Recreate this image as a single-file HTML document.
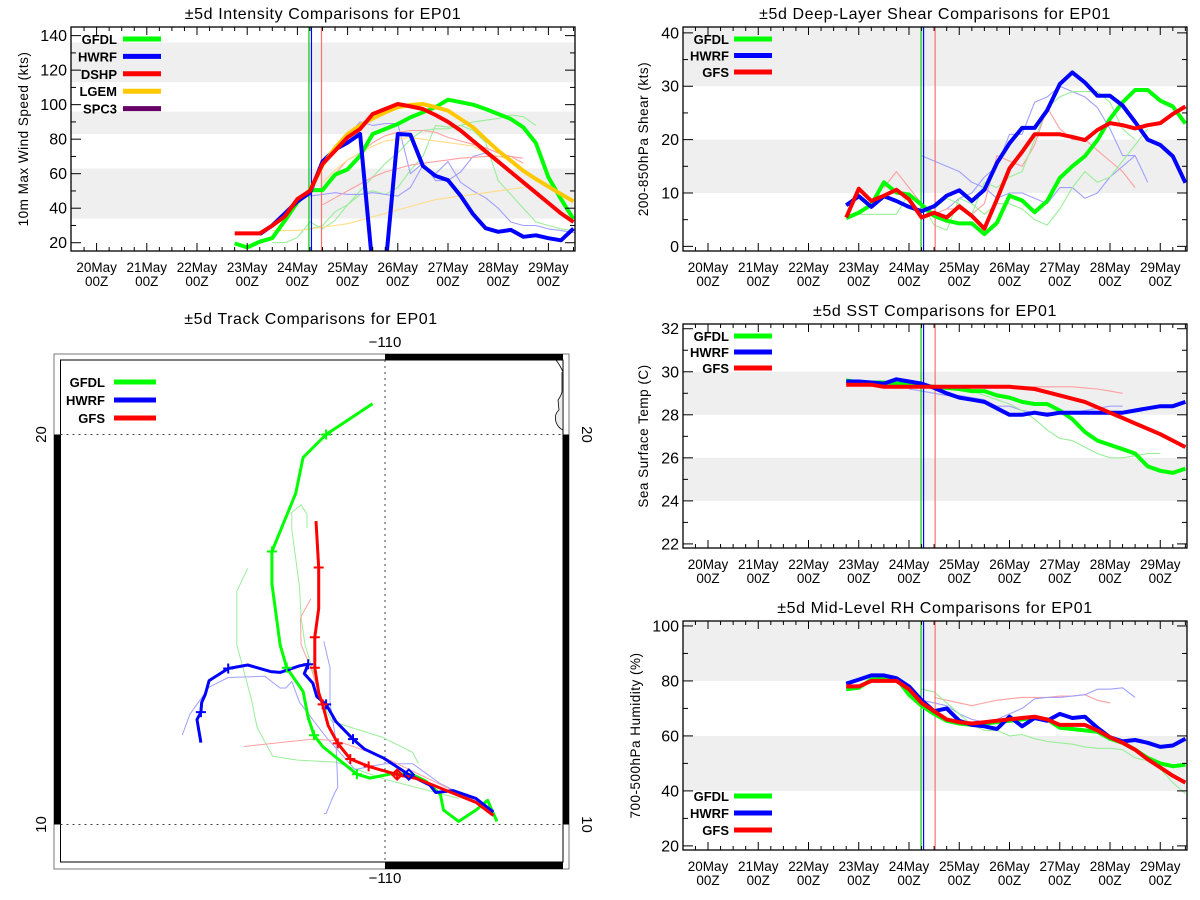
<!DOCTYPE html>
<html><head><meta charset="utf-8"><title>EP01 comparisons</title>
<style>
html,body{margin:0;padding:0;background:#fff;}
svg{display:block;font-family:"Liberation Sans",sans-serif;}
</style></head>
<body>
<svg id="root" width="1200" height="900" viewBox="0 0 1200 900" xmlns="http://www.w3.org/2000/svg">
<rect x="0" y="0" width="1200" height="900" fill="#fff"/>
</svg>
<script>
// ---------- data (6-hourly values) ----------
const dateLabels = ["20May","21May","22May","23May","24May","25May","26May","27May","28May","29May"];
const seriesStartDay = 22.75;

const intTicks = [20,40,60,80,100,120,140];
const intGFDL = [19.6,17.3,20.6,22.7,32.8,43.4,50.5,50.5,59.4,62.5,70.4,83,85.9,88.8,92.6,95.6,98.5,102.9,101.4,100,97.5,94.6,91.7,86.9,77.8,57.9,45.3,33.7];
const intHWRF = [null,null,25,30,37,44,49,67,74,78,83,5,5,83,82.6,64.5,58.7,56.2,47.2,36.5,28.4,26.3,27.4,23.4,24.3,22.6,21.4,28.2];
const intDSHP = [25.4,25.4,25.4,29.9,35.3,45.3,50.1,65.6,73.3,81.1,85.9,94.6,97.5,100.4,99,97.5,94,90,85,79,73,67,61,55,49,43,37,32];
const intLGEM = [null,null,null,null,null,null,50,65,75,83,88,92,95.6,98.5,99.8,100.4,98.5,96.5,91.7,86.9,80,73.3,67.5,61.7,56.9,52.5,48.2,44];
const intThinGreen1 = [20,20,23,32,28,33,42,50,58,66,72,80,85,86,86,88,90,91,92,94,93,88];
const intThinGreen2 = [28,30,38,42,48,50,48,52,62,70,88,87,88,85,78,56,48,40,32,30,28,27];
const intThinBlue1 = [47,48,49,48,48,49,48,47,52,65,60,67,55,50,46,40,32,30,30,28,27,26,24,22,24,22];
const intThinBlue2 = [75,82,90,88,89,89,60,66,56,56,61,70,72];
const intThinRed1 = [50,60,68,72,78,82,84,85,85,84,81,79,77,75,72,70,66];
const intThinRed2 = [42,46,50,54,58,61,63,65,66,67,68,69,69.5,70,70,70,69];
const intThinOrange1 = [55,62,68,72,76,79,80,81,80,79,78,77,76,72,70,68];
const intThinOrange2 = [27,27,27,28,29,30,31,33,35,37,39,41,43,45,46,47,48,49,50,51,52];

const shrTicks = [0,10,20,30,40];
const shrGFDL = [5.3,6.3,7.8,12,10.1,9.7,7.8,5.7,4.8,4.3,4.3,2.3,4.4,9.5,8.6,6.4,8.5,12.8,15,16.9,19.9,23.9,27,29.3,29.3,27.3,26.2,23];
const shrHWRF = [7.7,9.4,7.4,9.4,8.5,7.4,6.6,7.5,9.5,10.5,8.5,10.6,15.6,19.3,22.2,22.2,25.5,30.4,32.6,30.7,28.2,28.2,26.4,23.3,20,19,16.9,11.9];
const shrGFS = [5.4,10.8,8.5,9.5,10.6,8.8,5.4,6.3,5.4,7.5,5.7,3.3,8.8,14.6,17.7,21,21,21,20.5,19.9,21.8,23.1,22.7,22.1,22.7,23.1,24.8,26.2];
const shrThinBlue1 = [17,16,15,14,12,11,9,10,10,9,8,11,11,9,10,13,15,17];
const shrThinBlue2 = [7,9,10,13,15,21,21,27,28,30,29,28,26,22,17,17,12];
const shrThinRed1 = [11,14,11,8,6,7,7,6,8,17,16,15,19,26,22,20,20,18,16,14,11];
const shrThinGreen1 = [6,6,6,6,10,8,4,3,9,8,6,8,8,7,5,4,7,11,14,12,13,16,19,22];
const shrThinGreen2 = [7,9,8,6,12,11,13,14,20,26,28,29,29,29,27,22,20];

const sstTicks = [22,24,26,28,30,32];
const sstGFDL = [29.6,29.5,29.5,29.5,29.45,29.4,29.35,29.3,29.25,29.2,29.1,29.1,28.9,28.8,28.6,28.5,28.5,28.2,27.8,27.2,26.8,26.6,26.4,26.2,25.6,25.4,25.3,25.5];
const sstHWRF = [29.55,29.55,29.5,29.45,29.65,29.55,29.45,29.25,29.0,28.8,28.7,28.6,28.3,28.0,28.0,28.1,28.0,28.1,28.1,28.1,28.1,28.1,28.1,28.2,28.3,28.4,28.4,28.6];
const sstGFS = [29.4,29.4,29.4,29.3,29.3,29.3,29.3,29.3,29.3,29.3,29.3,29.3,29.3,29.3,29.25,29.2,29.05,28.9,28.75,28.6,28.35,28.1,27.85,27.6,27.35,27.1,26.8,26.5];
const sstThinRed = [29.3,29.3,29.3,29.3,29.3,29.3,29.3,29.3,29.3,29.3,29.25,29.2,29.1,29.0];
const sstThinBlue = [29.2,29.1,29.0,28.9,28.9,28.8,28.7,28.4,28.4,28.2,28.1,28.1,28.1,28.1,28.2,28.3,28.4,28.4];
const sstThinGreen = [29.3,29.1,28.9,28.7,28.5,28.2,27.8,27.3,26.9,26.8,26.5,26.2,26.0,26.0,26.1,26.2,26.2];

const rhTicks = [20,40,60,80,100];
const rhGFDL = [77,77.5,80.5,81,81,75,71,68,65.5,64.5,64,64.5,65,65.5,66,66.5,66,63,62.5,62,61.5,59,57.5,55,52,50,49,49.5];
const rhHWRF = [79,80.5,82,82,81,78,73,69,70,65.5,64,63.5,62.5,67,63.5,66.5,65.5,68,66.5,67,63,59.5,58,58.5,57.5,56,56.5,59];
const rhGFS = [78,78,80,80,80,77,72,69,66,65,64.5,65,65.5,66,66.5,67,66,64,64,64,62,59.5,57.5,55,51.5,48.5,45.5,43];
const rhThinRed = [74,73,72,71,72,73,73.5,74,74,74,74.5,74.5,75,73,72];
const rhThinBlue = [73,72,71,68,66,65,66,68,70,73.5,74,74,74.5,75,77,77,77.5,74];
const rhThinGreen = [77,76,72,68,64,62,62,60,60.5,59,58,57.5,57,56,55.5,55.5,55,52,51,48,43,39];

// track data: [lon, lat]
const trkGFDL = [[-110.32,20.79],[-111.51,20.0],[-112.10,19.41],[-112.29,18.49],[-112.90,17.0],[-112.90,16.18],[-112.69,14.61],[-112.52,14.02],[-112.10,13.41],[-111.97,12.74],[-111.82,12.29],[-111.60,12.0],[-110.72,11.29],[-110.39,11.19],[-109.78,11.31],[-109.29,11.28],[-108.95,11.11],[-108.58,10.77],[-108.50,10.37],[-108.11,10.08],[-107.67,10.37],[-107.37,10.62],[-107.13,10.08]];
const trkHWRF = [[-107.22,10.32],[-107.67,10.67],[-108.26,10.87],[-108.70,10.82],[-108.85,11.01],[-109.39,11.28],[-110.03,11.70],[-110.52,11.93],[-110.82,12.19],[-111.26,12.64],[-111.51,13.08],[-111.75,13.28],[-111.85,13.62],[-112.07,13.87],[-111.97,14.11],[-112.19,14.07],[-112.69,13.90],[-112.93,13.92],[-113.52,14.09],[-114.02,14.0],[-114.51,13.69],[-114.61,13.33],[-114.70,13.13],[-114.72,12.88],[-114.82,12.69],[-114.72,12.10]];
const trkGFS = [[-107.22,10.23],[-107.67,10.57],[-108.55,10.92],[-109.19,11.18],[-109.69,11.28],[-110.42,11.49],[-110.89,11.68],[-111.21,12.08],[-111.46,12.54],[-111.60,13.08],[-111.70,13.38],[-111.80,14.02],[-111.80,14.80],[-111.70,15.54],[-111.70,16.59],[-111.77,17.78]];
const trkGFDLMarks = [1,4,7,10,12];
const trkHWRFMarks = [8,10,14,19,23];
const trkGFSMarks = [4,5,6,7,9,11,12,14];
const trkThinG1 = [[-112.0,17.61],[-112.0,17.95],[-112.15,18.2],[-112.39,18.0],[-112.39,17.56],[-112.19,16.08],[-112.15,15.3],[-112.05,14.6],[-111.75,13.62],[-111.56,13.03],[-111.36,12.64],[-110.08,12.24],[-109.29,11.85],[-109.14,11.56]];
const trkThinG2 = [[-113.52,16.57],[-113.8,15.98],[-113.8,14.61],[-113.43,13.23],[-113.28,12.49],[-112.88,11.75],[-112.24,11.65],[-111.26,11.6],[-110.0,11.16],[-108.11,10.67]];
const trkThinB1 = [[-111.57,14.70],[-111.41,14.02],[-111.41,13.13],[-111.26,12.15],[-111.21,10.96],[-111.31,10.77],[-111.51,10.28],[-111.57,10.28]];
const trkThinB2 = [[-115.2,12.29],[-115.0,12.83],[-114.51,13.52],[-114.02,13.77],[-113.08,13.80],[-112.69,13.50],[-112.54,13.50],[-112.39,13.67],[-112.19,13.13],[-111.51,12.24],[-110.77,11.41],[-110.0,11.56],[-109.29,11.56],[-108.6,11.06],[-107.22,10.37]];
const trkThinR1 = [[-111.9,15.79],[-112.17,15.30],[-112.15,14.61],[-111.9,14.02],[-111.65,13.23],[-111.46,12.54]];
const trkThinR2 = [[-113.62,12.0],[-111.85,12.19],[-111.26,12.15],[-110.08,11.75],[-107.22,10.37]];

// ---------- helpers ----------
const NS = "http://www.w3.org/2000/svg";
const root = document.getElementById("root");
function mk(tag, attrs, parent){
  const e = document.createElementNS(NS, tag);
  for (const k in attrs) e.setAttribute(k, attrs[k]);
  (parent||root).appendChild(e);
  return e;
}
const GREEN="#00ff00", BLUE="#0000ff", RED="#ff0000", ORANGE="#ffc800", PURPLE="#660066";
const LGREEN="#99ee99", LBLUE="#a0a0ff", LRED="#ffa0a0", LORANGE="#ffdd88";

function timePanel(cfg){
  const g = mk("g", {});
  
  
  const L=cfg.left, R=cfg.right, T=cfg.top, B=cfg.bottom;
  const xs = d => cfg.x20 + (d-20)*cfg.perDay;
  const ys = v => B - (v-cfg.ymin)/(cfg.ymax-cfg.ymin)*(B-T);
  const title = mk("text", {x:(L+R)/2, y:cfg.titleY, "text-anchor":"middle", "font-size":"16", "letter-spacing":"0.6", fill:"#000"}, g);
  title.textContent = cfg.title;
  
  
  cfg.bands.forEach(b => {
    const y1 = ys(Math.min(b[1],cfg.ymax)), y2 = ys(b[0]);
    const r = mk("rect", {x:L, y:y1, width:R-L, height:y2-y1, fill:"#efefef"}, g);
    
    
  });
  const clipId = "clip"+cfg.name;
  const cp = mk("clipPath", {id:clipId}, g);
  mk("rect", {x:L, y:T, width:R-L, height:B-T}, cp);
  const plot = mk("g", {"clip-path":"url(#"+clipId+")"}, g);
  function line(vals, start, color, w, nm){
    let d = "", pen=false;
    vals.forEach((v,i) => {
      if (v===null){pen=false;return;}
      const x = xs(start + i*0.25), y = ys(v);
      d += (pen?"L":"M") + x.toFixed(1) + " " + y.toFixed(1) + " ";
      pen = true;
    });
    const p = mk("path", {d:d, fill:"none", stroke:color, "stroke-width":w, "stroke-linejoin":"round"}, plot);
    
    
  }
  cfg.thin.forEach(t => line(t[0], t[1], t[2], 1.1, "ensemble-line"));
  cfg.vlines.forEach(v => {
    const l = mk("line", {x1:xs(v[0]), x2:xs(v[0]), y1:T, y2:B, stroke:v[1], "stroke-width":1.2}, plot);
    
    
  });
  cfg.thick.slice().reverse().forEach(t => line(t[0], seriesStartDay, t[1], 4, t[2]));
  const fr = mk("rect", {x:L, y:T, width:R-L, height:B-T, fill:"none", stroke:"#000", "stroke-width":1.3}, g);
  
  
  for (let d=19.5; d<=29.6; d+=0.25){
    const x = xs(d); if (x<L+1||x>R-1) continue;
    const major = Math.abs(d-Math.round(d))<1e-6;
    const len = major?8:4;
    mk("line", {x1:x,x2:x,y1:B,y2:B-len,stroke:"#000","stroke-width":1}, g);
    mk("line", {x1:x,x2:x,y1:T,y2:T+len,stroke:"#000","stroke-width":1}, g);
  }
  dateLabels.forEach((lab,i) => {
    const x = xs(20+i);
    const t1 = mk("text", {x:x, y:B+21, "text-anchor":"middle", "font-size":"13.5"}, g);
    t1.textContent = lab;
    
    
    const t2 = mk("text", {x:x, y:B+35, "text-anchor":"middle", "font-size":"13.5"}, g);
    t2.textContent = "00Z";
    
    
  });
  const step = cfg.ticks[1]-cfg.ticks[0];
  for (let v=cfg.ticks[0]; v<=cfg.ticks[cfg.ticks.length-1]+1e-6; v+=step/cfg.minor){
    const y = ys(v);
    const major = cfg.ticks.some(t=>Math.abs(t-v)<1e-6);
    const len = major?10:5;
    mk("line", {x1:L,x2:L+len,y1:y,y2:y,stroke:"#000","stroke-width":1}, g);
    mk("line", {x1:R,x2:R-len,y1:y,y2:y,stroke:"#000","stroke-width":1}, g);
  }
  cfg.ticks.forEach(v => {
    const t = mk("text", {x:L-4, y:ys(v)+5.5, "text-anchor":"end", "font-size":"16"}, g);
    t.textContent = v;
    
    
  });
  const yt = mk("text", {x:0, y:0, "text-anchor":"middle", "font-size":"13.5", "letter-spacing":"0.5", transform:"translate("+cfg.yTitleX+","+((T+B)/2)+") rotate(-90)"}, g);
  yt.textContent = cfg.yTitle;
  
  
  cfg.legend.forEach((e,i) => {
    const y = cfg.legY + i*cfg.legStep;
    const t = mk("text", {x:cfg.legTextX, y:y+5, "text-anchor":"end", "font-size":"13", "font-weight":"bold"}, g);
    t.textContent = e[0];
    
    
    const l = mk("line", {x1:cfg.legLineX, x2:cfg.legLineX+38, y1:y, y2:y, stroke:e[1], "stroke-width":5}, g);
    
    
  });
}

const leftX = {left:71, right:575, x20:96.6, perDay:50.2};
const rightX = {left:683, right:1187, x20:708, perDay:50.25};
const rightV = [[24.24,"#00cc00"],[24.29,"#0000ff"],[24.52,"#ff7070"]];

timePanel(Object.assign({}, leftX, {
  name:"intensity-chart", title:"\u00b15d Intensity Comparisons for EP01", titleY:19,
  top:27, bottom:251, ymin:15.2, ymax:145, ticks:intTicks, minor:2,
  bands:[[34,63],[83,96],[113,136]], yTitle:"10m Max Wind Speed (kts)", yTitleX:28,
  vlines:[[24.23,"#00cc00"],[24.28,"#0000ff"],[24.48,"#ff7070"]],
  thin:[[intThinGreen1,23.5,LGREEN],[intThinGreen2,24.25,LGREEN],[intThinBlue1,24.25,LBLUE],[intThinBlue2,24.75,LBLUE],[intThinRed1,24.5,LRED],[intThinRed2,24.5,LRED],[intThinOrange1,24.5,LORANGE],[intThinOrange2,23.5,LORANGE]],
  thick:[[intDSHP,RED,"dshp-line"],[intLGEM,ORANGE,"lgem-line"],[intHWRF,BLUE,"hwrf-line"],[intGFDL,GREEN,"gfdl-line"]],
  legend:[["GFDL",GREEN],["HWRF",BLUE],["DSHP",RED],["LGEM",ORANGE],["SPC3",PURPLE]],
  legY:39, legStep:17.4, legTextX:117, legLineX:123
}));
timePanel(Object.assign({}, rightX, {
  name:"shear-chart", title:"\u00b15d Deep-Layer Shear Comparisons for EP01", titleY:19,
  top:27, bottom:251, ymin:-0.87, ymax:41.1, ticks:shrTicks, minor:2,
  bands:[[10,20],[30,45]], yTitle:"200-850hPa Shear (kts)", yTitleX:648,
  vlines:rightV,
  thin:[[shrThinBlue1,24.25,LBLUE],[shrThinBlue2,24.75,LBLUE],[shrThinRed1,23.5,LRED],[shrThinGreen1,23.0,LGREEN],[shrThinGreen2,24.5,LGREEN]],
  thick:[[shrGFS,RED,"gfs-line"],[shrHWRF,BLUE,"hwrf-line"],[shrGFDL,GREEN,"gfdl-line"]],
  legend:[["GFDL",GREEN],["HWRF",BLUE],["GFS",RED]],
  legY:39, legStep:16.5, legTextX:729, legLineX:734
}));
timePanel(Object.assign({}, rightX, {
  name:"sst-chart", title:"\u00b15d SST Comparisons for EP01", titleY:316,
  top:324, bottom:548, ymin:21.81, ymax:32.22, ticks:sstTicks, minor:2,
  bands:[[24,26],[28,30]], yTitle:"Sea Surface Temp (C)", yTitleX:648,
  vlines:rightV,
  thin:[[sstThinRed,25.0,LRED],[sstThinBlue,24.0,LBLUE],[sstThinGreen,25.0,LGREEN]],
  thick:[[sstGFS,RED,"gfs-line"],[sstHWRF,BLUE,"hwrf-line"],[sstGFDL,GREEN,"gfdl-line"]],
  legend:[["GFDL",GREEN],["HWRF",BLUE],["GFS",RED]],
  legY:336, legStep:16, legTextX:729, legLineX:734
}));
timePanel(Object.assign({}, rightX, {
  name:"rh-chart", title:"\u00b15d Mid-Level RH Comparisons for EP01", titleY:613,
  top:621, bottom:850, ymin:18.5, ymax:101.8, ticks:rhTicks, minor:2,
  bands:[[40,60],[80,105]], yTitle:"700-500hPa Humidity (%)", yTitleX:640,
  vlines:rightV,
  thin:[[rhThinRed,24.5,LRED],[rhThinBlue,24.25,LBLUE],[rhThinGreen,24.25,LGREEN]],
  thick:[[rhGFS,RED,"gfs-line"],[rhHWRF,BLUE,"hwrf-line"],[rhGFDL,GREEN,"gfdl-line"]],
  legend:[["GFDL",GREEN],["HWRF",BLUE],["GFS",RED]],
  legY:796, legStep:17, legTextX:729, legLineX:734
}));

// ---------- track map ----------
(function(){
  const g = mk("g", {});
  
  
  const X110=385, Y20=434.5, PX=39.0;
  const lx = lon => X110 + (lon+110)*PX;
  const ly = lat => Y20 - (lat-20)*PX;
  const t = mk("text", {x:311, y:324, "text-anchor":"middle", "font-size":"16", "letter-spacing":"0.6"}, g);
  t.textContent = "\u00b15d Track Comparisons for EP01";
  
  
  const oL=54, oR=569, oT=354, oB=869, iL=60.5, iR=563, iT=360, iB=862;
  mk("rect", {x:oL, y:oT, width:oR-oL, height:oB-oT, fill:"none", stroke:"#777", "stroke-width":1}, g);
  mk("rect", {x:iL, y:iT, width:iR-iL, height:iB-iT, fill:"#fff", stroke:"#000", "stroke-width":1}, g);
  const coast = mk("path", {d:"M556 360 Q560 365 563 372 L563 430 Q558 428 556 422 Q554 414 559 410 L558 400 Q561 396 562 392 L562 372", fill:"#eeeeee", stroke:"#000", "stroke-width":0.8}, g);
  
  
  mk("rect", {x:X110, y:oT, width:iR-X110, height:iT-oT, fill:"#000"}, g);
  mk("rect", {x:X110, y:iB, width:iR-X110, height:oB-iB, fill:"#000"}, g);
  mk("rect", {x:oL, y:Y20, width:iL-oL, height:ly(10)-Y20, fill:"#000"}, g);
  mk("rect", {x:iR, y:Y20, width:oR-iR, height:ly(10)-Y20, fill:"#000"}, g);
  const gl1 = mk("line", {x1:X110,x2:X110,y1:iT,y2:iB,stroke:"#444","stroke-dasharray":"2 4","stroke-width":1}, g);
  
  
  [20,10].forEach(lat => {
    const gl = mk("line", {x1:iL,x2:iR,y1:ly(lat),y2:ly(lat),stroke:"#444","stroke-dasharray":"2 4","stroke-width":1}, g);
    
    
    [[46,-90],[582,90]].forEach(p => {
      const tx = mk("text", {x:0,y:0,"text-anchor":"middle","font-size":"15",transform:"translate("+p[0]+","+ly(lat)+") rotate("+p[1]+")"}, g);
      tx.textContent = String(lat);
      
      
    });
  });
  [[347],[883]].forEach(p => {
    const tx = mk("text", {x:X110, y:p[0], "text-anchor":"middle", "font-size":"15"}, g);
    tx.textContent = "\u2212110";
    
    
  });
  function trk(pts, color, w, nm){
    const d = pts.map((p,i)=>(i?"L":"M")+lx(p[0]).toFixed(1)+" "+ly(p[1]).toFixed(1)).join(" ");
    const p = mk("path", {d:d, fill:"none", stroke:color, "stroke-width":w, "stroke-linejoin":"round"}, g);
    
    
  }
  [[trkThinG1,LGREEN],[trkThinG2,LGREEN],[trkThinB1,LBLUE],[trkThinB2,LBLUE],[trkThinR1,LRED],[trkThinR2,LRED]].forEach(a=>trk(a[0],a[1],1,"ensemble-track"));
  trk(trkGFDL, GREEN, 3, "gfdl-track");
  trk(trkHWRF, BLUE, 3, "hwrf-track");
  trk(trkGFS, RED, 3, "gfs-track");
  function marks(pts, idx, color){
    idx.forEach(i => {
      const x=lx(pts[i][0]), y=ly(pts[i][1]);
      const m = mk("path", {d:"M"+(x-5)+" "+y+"L"+(x+5)+" "+y+"M"+x+" "+(y-5)+"L"+x+" "+(y+5), stroke:color, "stroke-width":2}, g);
      
      
    });
  }
  marks(trkGFDL, trkGFDLMarks, GREEN);
  marks(trkHWRF, trkHWRFMarks, BLUE);
  marks(trkGFS, trkGFSMarks, RED);
  [[trkHWRF[5],BLUE],[trkGFS[4],RED]].forEach(a => {
    const x=lx(a[0][0]), y=ly(a[0][1]);
    const dm = mk("path", {d:"M"+(x-5)+" "+y+"L"+x+" "+(y-5)+"L"+(x+5)+" "+y+"L"+x+" "+(y+5)+"Z", fill:"none", stroke:a[1], "stroke-width":2}, g);
    
    
  });
  [["GFDL",GREEN],["HWRF",BLUE],["GFS",RED]].forEach((e,i) => {
    const y = 382 + i*18;
    const tx = mk("text", {x:105, y:y+5, "text-anchor":"end", "font-size":"13", "font-weight":"bold"}, g);
    tx.textContent = e[0];
    
    
    const l = mk("line", {x1:114, x2:156, y1:y, y2:y, stroke:e[1], "stroke-width":5}, g);
    
    
  });
})();
</script>
</body></html>
